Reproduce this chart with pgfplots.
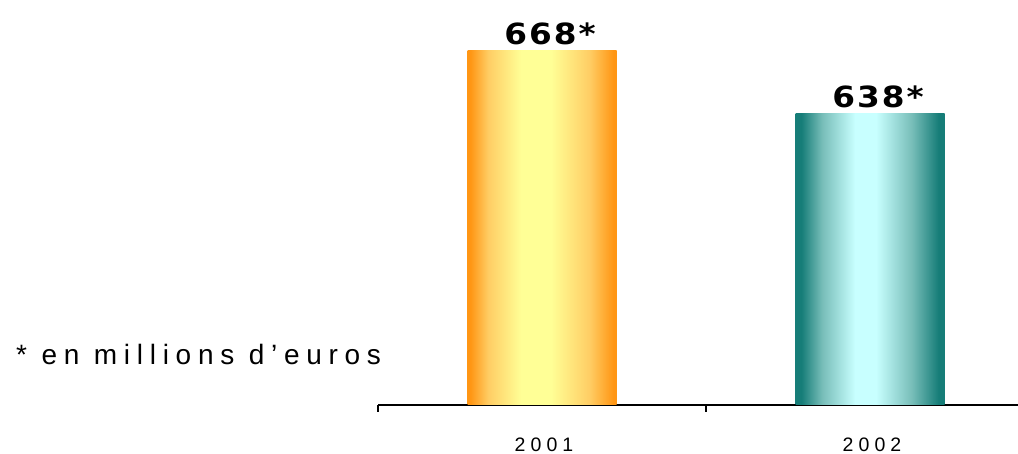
\documentclass[border=0pt]{standalone}
\usepackage{pgfplots}
\pgfplotsset{compat=1.18}
\usepackage{fontspec}
\setmainfont{Liberation Sans}
\newfontfamily\lsfont[LetterSpace=24]{Liberation Sans}
\newfontfamily\tkfont[LetterSpace=26]{Liberation Sans}
\newfontfamily\valfont[FakeStretch=1.12, LetterSpace=7]{DejaVu Sans}
\definecolor{or1}{RGB}{255,150,20}
\definecolor{or2}{RGB}{255,205,100}
\definecolor{yel}{RGB}{255,255,150}
\definecolor{te1}{RGB}{22,125,120}
\definecolor{te2}{RGB}{120,190,185}
\definecolor{cy}{RGB}{200,255,255}
\pgfdeclarehorizontalshading{orangebar}{100bp}{color(0bp)=(or1); color(26bp)=(or1); color(32bp)=(or2); color(43bp)=(yel); color(53bp)=(yel); color(66bp)=(or2); color(74bp)=(or1); color(100bp)=(or1)}
\pgfdeclarehorizontalshading{tealbar}{100bp}{color(0bp)=(te1); color(27bp)=(te1); color(34bp)=(te2); color(45bp)=(cy); color(52bp)=(cy); color(64bp)=(te2); color(73bp)=(te1); color(100bp)=(te1)}
\begin{document}
\begin{tikzpicture}
\useasboundingbox (0,0) rectangle (1018pt,454pt);
\begin{axis}[
  at={(378pt,49pt)}, anchor=south west,
  scale only axis, width=640pt, height=405pt,
  xmin=0, xmax=1.9512, ymin=500, ymax=691.7,
  axis x line=bottom, x axis line style={-, line width=1.6pt},
  axis y line=none,
  xtick={0.5,1.5}, xticklabels={2001,2002},
  major tick length=0pt,
  extra x ticks={0,1}, extra x tick labels={},
  extra x tick style={major tick length=7pt, tick align=outside, tick style={line width=1.4pt, black}},
  xticklabel style={font=\tkfont\fontsize{19.5}{22}\selectfont, anchor=base, yshift=-46.5pt, xshift=2pt},
  /pgf/number format/assume math mode=true,
  ybar, bar width=149pt, bar shift=0pt,
  nodes near coords={\pgfmathprintnumber[fixed,precision=0]{\pgfplotspointmeta}*},
  nodes near coords style={font=\valfont\bfseries\fontsize{29.2}{33}\selectfont, anchor=south, black, yshift=2pt, xshift=8pt},
  point meta=y,
  clip=false,
]
\addplot[draw=none, shade, shading=orangebar] coordinates {(0.5,668)};
\addplot[draw=none, shade, shading=tealbar] coordinates {(1.5,638)};
\end{axis}
\node[anchor=base west, font=\lsfont\fontsize{28}{30}\selectfont, inner sep=0pt] at (16pt,89pt) {* en millions d’euros};
\end{tikzpicture}
\end{document}
